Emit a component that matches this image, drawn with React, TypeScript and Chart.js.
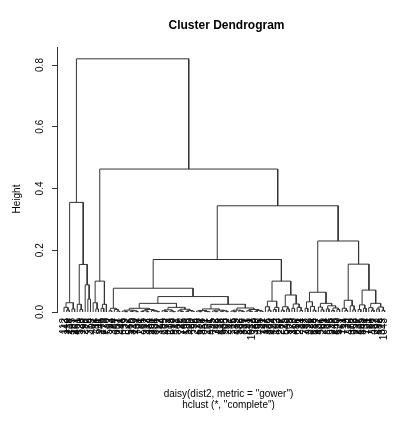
import React, { useEffect, useRef } from "react";
import { Chart, registerables } from "chart.js";

Chart.register(...registerables);

const titleText = "Cluster Dendrogram";
const subLines = ['daisy(dist2, metric = "gower")', 'hclust (*, "complete")'];
const yAxisTitle = "Height";
const yTickValues = [0, 0.2, 0.4, 0.6, 0.8];
const yTickLabels = ["0.0", "0.2", "0.4", "0.6", "0.8"];

// leaf labels in dendrogram order (left to right)
const leafLabels = [
  "112", "143", "219", "305", "187", "461", "520", "133", "298", "76",
  "354", "402", "88", "611", "245", "179", "730", "512", "93", "384",
  "657", "201", "448", "39", "822", "566", "310", "149", "703", "281",
  "65", "917", "434", "258", "391", "806", "127", "54", "689", "472",
  "233", "598", "812", "367", "29", "745", "156", "583", "420", "96",
  "274", "639", "318", "851", "207", "71", "495", "762", "346", "118",
  "584", "903", "262", "47", "715", "389", "532", "166", "827", "293",
  "641", "1012", "380", "58", "455", "721", "197", "336", "869", "424",
  "102", "613", "287", "75", "548", "909", "170", "363", "686", "231",
  "14", "797", "452", "329", "618", "184", "937", "506", "261", "82",
  "673", "395", "248", "840", "529", "161", "714", "33", "476", "302",
  "958", "227", "605", "348", "134", "791", "66", "437", "252", "882",
  "319", "1043",
];

// merges: [first leaf, first leaf of right branch, last leaf, height]
const rootNodes = [
  [1, 12, 122, 0.82],
  [1, 6, 11, 0.355],
  [12, 18, 122, 0.463],
  [18, 92, 122, 0.344],
  [18, 77, 91, 0.17],
  [18, 23, 76, 0.077],
  [23, 51, 76, 0.05],
  [23, 38, 50, 0.028],
  [51, 64, 76, 0.025],
  [77, 83, 91, 0.1],
  [92, 106, 122, 0.23],
];
const groupA = [
  [1, 4, 5, 0.03], [1, 2, 3, 0.015], [2, 3, 3, 0.006], [4, 5, 5, 0.01],
  [6, 9, 11, 0.154], [6, 7, 8, 0.025], [7, 8, 8, 0.008], [9, 10, 11, 0.088], [10, 11, 11, 0.042],
];
const groupB = [
  [12, 15, 17, 0.1], [12, 13, 14, 0.03], [13, 14, 14, 0.01], [15, 17, 17, 0.025], [15, 16, 16, 0.012],
];
const groupL1 = [
  [18, 20, 22, 0.012], [18, 19, 19, 0.004], [20, 21, 22, 0.008], [21, 22, 22, 0.003],
];
const groupMidLeft = [
  [23, 30, 37, 0.012], [23, 26, 29, 0.006], [23, 24, 25, 0.003], [24, 25, 25, 0.001],
  [26, 28, 29, 0.004], [26, 27, 27, 0.002], [28, 29, 29, 0.001], [30, 34, 37, 0.008],
  [30, 32, 33, 0.004], [30, 31, 31, 0.002], [32, 33, 33, 0.001], [34, 35, 37, 0.005],
  [35, 36, 37, 0.003], [36, 37, 37, 0.001],
  [38, 44, 50, 0.015], [38, 41, 43, 0.007], [38, 39, 40, 0.004], [39, 40, 40, 0.002],
  [41, 42, 43, 0.003], [42, 43, 43, 0.001], [44, 47, 50, 0.009], [44, 45, 46, 0.004],
  [45, 46, 46, 0.002], [47, 49, 50, 0.005], [47, 48, 48, 0.002], [49, 50, 50, 0.003],
];
const groupMidRight = [
  [51, 57, 63, 0.01], [51, 54, 56, 0.005], [51, 52, 53, 0.003], [52, 53, 53, 0.001],
  [54, 55, 56, 0.002], [55, 56, 56, 0.001], [57, 60, 63, 0.006], [57, 58, 59, 0.003],
  [58, 59, 59, 0.001], [60, 62, 63, 0.004], [60, 61, 61, 0.002], [62, 63, 63, 0.001],
  [64, 70, 76, 0.013], [64, 67, 69, 0.006], [64, 65, 66, 0.003], [65, 66, 66, 0.001],
  [67, 68, 69, 0.004], [68, 69, 69, 0.002], [70, 73, 76, 0.008], [70, 71, 72, 0.004],
  [71, 72, 72, 0.002], [73, 75, 76, 0.005], [73, 74, 74, 0.002], [75, 76, 76, 0.003],
];
const groupN2 = [
  [77, 80, 82, 0.035], [77, 78, 79, 0.017], [78, 79, 79, 0.006], [80, 82, 82, 0.015], [80, 81, 81, 0.008],
  [83, 87, 91, 0.055], [83, 85, 86, 0.017], [83, 84, 84, 0.006], [85, 86, 86, 0.01],
  [87, 89, 91, 0.026], [87, 88, 88, 0.012], [89, 90, 91, 0.015], [90, 91, 91, 0.005],
];
const groupC = [
  [92, 97, 105, 0.064],
  [92, 94, 96, 0.033], [92, 93, 93, 0.012], [94, 95, 96, 0.018], [95, 96, 96, 0.006],
  [97, 100, 105, 0.028], [97, 98, 99, 0.016], [98, 99, 99, 0.007], [100, 102, 105, 0.02],
  [100, 101, 101, 0.01], [102, 104, 105, 0.013], [102, 103, 103, 0.005], [104, 105, 105, 0.008],
  [106, 112, 122, 0.155],
  [106, 109, 111, 0.038], [106, 107, 108, 0.012], [107, 108, 108, 0.005], [109, 110, 111, 0.02], [110, 111, 111, 0.007],
  [112, 116, 122, 0.071],
  [112, 114, 115, 0.023], [112, 113, 113, 0.008], [114, 115, 115, 0.012],
  [116, 119, 122, 0.028], [116, 117, 118, 0.014], [117, 118, 118, 0.006],
  [119, 121, 122, 0.016], [119, 120, 120, 0.01], [121, 122, 122, 0.005],
];

const allRows: number[][] = [
  ...rootNodes, ...groupA, ...groupB, ...groupL1, ...groupMidLeft,
  ...groupMidRight, ...groupN2, ...groupC,
];

function buildLinks() {
  const map = new Map<string, number[]>();
  allRows.forEach((r) => map.set(`${r[0]}-${r[2]}`, r));
  const memo = new Map<string, number>();
  const center = (f: number, l: number): number => {
    if (f === l) return f;
    const key = `${f}-${l}`;
    const m = memo.get(key);
    if (m !== undefined) return m;
    const r = map.get(key);
    if (!r) throw new Error("missing node " + key);
    const c = (center(r[0], r[1] - 1) + center(r[1], r[2])) / 2;
    memo.set(key, c);
    return c;
  };
  const heightOf = (f: number, l: number) => (f === l ? 0 : map.get(`${f}-${l}`)![3]);
  return allRows.map(([f, s, l, h]) => {
    const xl = center(f, s - 1);
    const xr = center(s, l);
    return [
      { x: xl, y: heightOf(f, s - 1) },
      { x: xl, y: h },
      { x: xr, y: h },
      { x: xr, y: heightOf(s, l) },
    ];
  });
}

const FONT = '"Liberation Sans", Arial, Helvetica, sans-serif';

const textPlugin = {
  id: "rtexts",
  afterDraw(chart: any) {
    const { ctx, chartArea, scales } = chart;
    const xs = scales.x;
    const ys = scales.y;
    ctx.save();
    ctx.fillStyle = "#000";
    // title
    ctx.font = `bold 12px ${FONT}`;
    ctx.textAlign = "center";
    ctx.textBaseline = "alphabetic";
    ctx.fillText(titleText, 226.5, 28.5);
    // sub lines
    ctx.font = `10px ${FONT}`;
    ctx.fillText(subLines[0], 228.5, 396.5);
    ctx.fillText(subLines[1], 228.5, 407.5);
    // y tick labels
    ctx.textBaseline = "middle";
    yTickValues.forEach((v, i) => {
      const py = ys.getPixelForValue(v);
      ctx.save();
      ctx.translate(chartArea.left - 17, py);
      ctx.rotate(-Math.PI / 2);
      ctx.fillText(yTickLabels[i], 0, 0);
      ctx.restore();
    });
    // y title
    ctx.save();
    ctx.translate(17.5, 199);
    ctx.rotate(-Math.PI / 2);
    ctx.fillText(yAxisTitle, 0, 0);
    ctx.restore();
    // leaf labels
    ctx.textAlign = "right";
    leafLabels.forEach((lab, i) => {
      const px = xs.getPixelForValue(i + 1);
      ctx.save();
      ctx.translate(px, chartArea.bottom + 6);
      ctx.rotate(-Math.PI / 2);
      ctx.fillText(lab, 0, 0);
      ctx.restore();
    });
    ctx.restore();
  },
};

export default function App() {
  const ref = useRef<HTMLCanvasElement | null>(null);
  useEffect(() => {
    if (!ref.current) return;
    const links = buildLinks();
    const datasets = links.map((pts) => ({
      data: pts,
      borderColor: "#333",
      borderWidth: 1,
      pointRadius: 0,
      tension: 0,
      fill: false,
      clip: false as any,
    }));
    const chart = new Chart(ref.current, {
      type: "line",
      data: { datasets },
      options: {
        animation: false,
        responsive: false,
        devicePixelRatio: 1,
        events: [],
        layout: { padding: { left: 0, top: 47, right: 8, bottom: 109 } },
        plugins: {
          legend: { display: false },
          tooltip: { enabled: false },
          title: { display: false },
        },
        scales: {
          x: { type: "linear", display: false, min: -1.6415, max: 124.019 },
          y: {
            type: "linear",
            min: 0,
            max: 0.8583,
            afterFit: (s: any) => {
              s.width = 57;
            },
            afterBuildTicks: (s: any) => {
              s.ticks = yTickValues.map((v) => ({ value: v }));
            },
            ticks: { display: false },
            grid: { drawOnChartArea: false, drawTicks: true, tickLength: 5, color: "#333", lineWidth: 1 },
            border: { display: true, color: "#333", width: 1 },
          },
        },
      } as any,
      plugins: [textPlugin],
    });
    return () => chart.destroy();
  }, []);
  return (
    <div style={{ position: "fixed", left: 0, top: 0, width: 398, height: 421, background: "#fff" }}>
      <canvas ref={ref} width={398} height={421} style={{ width: 398, height: 421, display: "block" }} />
    </div>
  );
}
